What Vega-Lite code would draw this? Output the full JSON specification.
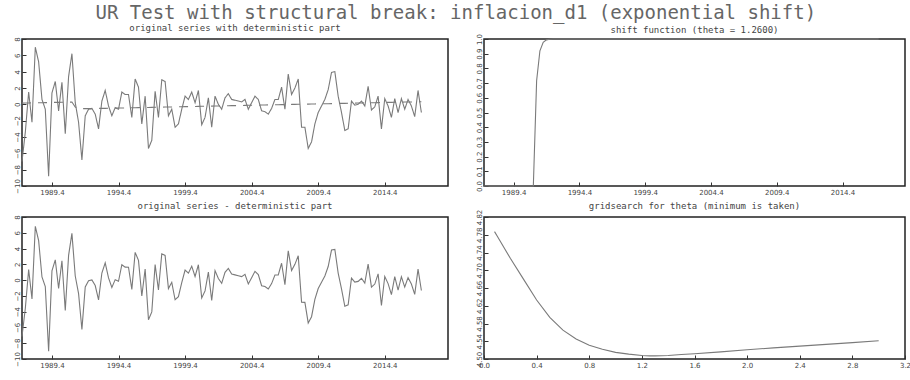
{
  "$schema": "https://vega.github.io/schema/vega-lite/v6.json",
  "padding": {"left": 0, "top": 4, "right": 0, "bottom": 0},
  "background": "white",
  "title": {"text": "UR Test with structural break: inflacion_d1 (exponential shift)", "font": "DejaVu Sans Mono", "fontSize": 19, "fontWeight": "normal", "color": "#666666", "anchor": "middle", "offset": 0},
  "config": {
    "view": {"stroke": "#222222", "strokeWidth": 1.5},
    "title": {"font": "DejaVu Sans Mono", "fontSize": 9, "fontWeight": "normal", "color": "#444444", "offset": 4},
    "axis": {"grid": false, "domain": false, "title": null, "labelFont": "DejaVu Sans", "labelFontSize": 7, "labelColor": "#444444", "tickColor": "#333333", "tickSize": -4, "labelPadding": 6, "labelFlush": false, "labelOverlap": false}
  },
  "datasets": {
    "ts": [
      {"t":1987.5,"y":-7.0,"d":0.15,"r":-7.15,"s":0},
      {"t":1987.75,"y":-3.4,"d":0.16,"r":-3.56,"s":0},
      {"t":1988.0,"y":1.5,"d":0.17,"r":1.33,"s":0},
      {"t":1988.25,"y":-2.2,"d":0.18,"r":-2.38,"s":0},
      {"t":1988.5,"y":7.0,"d":0.18,"r":6.82,"s":0},
      {"t":1988.75,"y":5.2,"d":0.19,"r":5.01,"s":0},
      {"t":1989.0,"y":0.6,"d":0.2,"r":0.4,"s":0},
      {"t":1989.25,"y":-0.6,"d":0.21,"r":-0.81,"s":0},
      {"t":1989.5,"y":-8.8,"d":0.22,"r":-9.02,"s":0},
      {"t":1989.75,"y":1.4,"d":0.23,"r":1.17,"s":0},
      {"t":1990.0,"y":2.8,"d":0.24,"r":2.56,"s":0},
      {"t":1990.25,"y":-0.8,"d":0.24,"r":-1.04,"s":0},
      {"t":1990.5,"y":2.7,"d":0.25,"r":2.45,"s":0},
      {"t":1990.75,"y":-3.6,"d":0.26,"r":-3.86,"s":0},
      {"t":1991.0,"y":3.4,"d":0.27,"r":3.13,"s":0},
      {"t":1991.25,"y":6.2,"d":0.28,"r":5.92,"s":0},
      {"t":1991.5,"y":0.2,"d":-0.32,"r":0.52,"s":0.716},
      {"t":1991.75,"y":-2.2,"d":-0.49,"r":-1.71,"s":0.92},
      {"t":1992.0,"y":-6.8,"d":-0.53,"r":-6.27,"s":0.977},
      {"t":1992.25,"y":-1.4,"d":-0.53,"r":-0.87,"s":0.994},
      {"t":1992.5,"y":-0.6,"d":-0.53,"r":-0.07,"s":0.998},
      {"t":1992.75,"y":-0.5,"d":-0.52,"r":0.02,"s":0.9995},
      {"t":1993.0,"y":-1.2,"d":-0.51,"r":-0.69,"s":1},
      {"t":1993.25,"y":-3.0,"d":-0.5,"r":-2.5,"s":1},
      {"t":1993.5,"y":0.4,"d":-0.5,"r":0.9,"s":1},
      {"t":1993.75,"y":1.7,"d":-0.49,"r":2.19,"s":1},
      {"t":1994.0,"y":-0.2,"d":-0.48,"r":0.28,"s":1},
      {"t":1994.25,"y":-1.4,"d":-0.47,"r":-0.93,"s":1},
      {"t":1994.5,"y":-0.4,"d":-0.46,"r":0.06,"s":1},
      {"t":1994.75,"y":-0.6,"d":-0.45,"r":-0.15,"s":1},
      {"t":1995.0,"y":1.5,"d":-0.45,"r":1.95,"s":1},
      {"t":1995.25,"y":1.2,"d":-0.44,"r":1.64,"s":1},
      {"t":1995.5,"y":1.2,"d":-0.43,"r":1.63,"s":1},
      {"t":1995.75,"y":-1.6,"d":-0.42,"r":-1.18,"s":1},
      {"t":1996.0,"y":3.1,"d":-0.41,"r":3.51,"s":1},
      {"t":1996.25,"y":2.1,"d":-0.4,"r":2.5,"s":1},
      {"t":1996.5,"y":-2.4,"d":-0.39,"r":-2.01,"s":1},
      {"t":1996.75,"y":1.0,"d":-0.39,"r":1.39,"s":1},
      {"t":1997.0,"y":-5.4,"d":-0.38,"r":-5.02,"s":1},
      {"t":1997.25,"y":-4.4,"d":-0.37,"r":-4.03,"s":1},
      {"t":1997.5,"y":1.6,"d":-0.36,"r":1.96,"s":1},
      {"t":1997.75,"y":-1.6,"d":-0.35,"r":-1.25,"s":1},
      {"t":1998.0,"y":3.0,"d":-0.34,"r":3.34,"s":1},
      {"t":1998.25,"y":2.8,"d":-0.33,"r":3.13,"s":1},
      {"t":1998.5,"y":-1.4,"d":-0.33,"r":-1.07,"s":1},
      {"t":1998.75,"y":-0.6,"d":-0.32,"r":-0.28,"s":1},
      {"t":1999.0,"y":-2.8,"d":-0.31,"r":-2.49,"s":1},
      {"t":1999.25,"y":-2.4,"d":-0.3,"r":-2.1,"s":1},
      {"t":1999.5,"y":-0.6,"d":-0.29,"r":-0.31,"s":1},
      {"t":1999.75,"y":1.0,"d":-0.28,"r":1.28,"s":1},
      {"t":2000.0,"y":0.6,"d":-0.28,"r":0.88,"s":1},
      {"t":2000.25,"y":1.5,"d":-0.27,"r":1.77,"s":1},
      {"t":2000.5,"y":0.2,"d":-0.26,"r":0.46,"s":1},
      {"t":2000.75,"y":1.7,"d":-0.25,"r":1.95,"s":1},
      {"t":2001.0,"y":-2.5,"d":-0.24,"r":-2.26,"s":1},
      {"t":2001.25,"y":-1.6,"d":-0.23,"r":-1.37,"s":1},
      {"t":2001.5,"y":0.8,"d":-0.22,"r":1.02,"s":1},
      {"t":2001.75,"y":-2.8,"d":-0.22,"r":-2.58,"s":1},
      {"t":2002.0,"y":1.0,"d":-0.21,"r":1.21,"s":1},
      {"t":2002.25,"y":0.0,"d":-0.2,"r":0.2,"s":1},
      {"t":2002.5,"y":-0.6,"d":-0.19,"r":-0.41,"s":1},
      {"t":2002.75,"y":0.8,"d":-0.18,"r":0.98,"s":1},
      {"t":2003.0,"y":1.3,"d":-0.17,"r":1.47,"s":1},
      {"t":2003.25,"y":0.6,"d":-0.16,"r":0.76,"s":1},
      {"t":2003.5,"y":0.5,"d":-0.16,"r":0.66,"s":1},
      {"t":2003.75,"y":0.4,"d":-0.15,"r":0.55,"s":1},
      {"t":2004.0,"y":0.3,"d":-0.14,"r":0.44,"s":1},
      {"t":2004.25,"y":0.6,"d":-0.13,"r":0.73,"s":1},
      {"t":2004.5,"y":-0.6,"d":-0.12,"r":-0.48,"s":1},
      {"t":2004.75,"y":0.2,"d":-0.11,"r":0.31,"s":1},
      {"t":2005.0,"y":1.0,"d":-0.11,"r":1.11,"s":1},
      {"t":2005.25,"y":0.6,"d":-0.1,"r":0.7,"s":1},
      {"t":2005.5,"y":-0.8,"d":-0.09,"r":-0.71,"s":1},
      {"t":2005.75,"y":-0.9,"d":-0.08,"r":-0.82,"s":1},
      {"t":2006.0,"y":-1.2,"d":-0.07,"r":-1.13,"s":1},
      {"t":2006.25,"y":-0.5,"d":-0.06,"r":-0.44,"s":1},
      {"t":2006.5,"y":0.6,"d":-0.05,"r":0.65,"s":1},
      {"t":2006.75,"y":0.6,"d":-0.05,"r":0.65,"s":1},
      {"t":2007.0,"y":2.1,"d":-0.04,"r":2.14,"s":1},
      {"t":2007.25,"y":-0.6,"d":-0.03,"r":-0.57,"s":1},
      {"t":2007.5,"y":3.7,"d":-0.02,"r":3.72,"s":1},
      {"t":2007.75,"y":1.2,"d":-0.01,"r":1.21,"s":1},
      {"t":2008.0,"y":2.0,"d":0.0,"r":2.0,"s":1},
      {"t":2008.25,"y":3.1,"d":0.01,"r":3.09,"s":1},
      {"t":2008.5,"y":-2.8,"d":0.01,"r":-2.81,"s":1},
      {"t":2008.75,"y":-2.8,"d":0.02,"r":-2.82,"s":1},
      {"t":2009.0,"y":-5.4,"d":0.03,"r":-5.43,"s":1},
      {"t":2009.25,"y":-4.6,"d":0.04,"r":-4.64,"s":1},
      {"t":2009.5,"y":-2.4,"d":0.05,"r":-2.45,"s":1},
      {"t":2009.75,"y":-1.0,"d":0.06,"r":-1.06,"s":1},
      {"t":2010.0,"y":-0.2,"d":0.07,"r":-0.27,"s":1},
      {"t":2010.25,"y":0.6,"d":0.07,"r":0.53,"s":1},
      {"t":2010.5,"y":1.8,"d":0.08,"r":1.72,"s":1},
      {"t":2010.75,"y":3.9,"d":0.09,"r":3.81,"s":1},
      {"t":2011.0,"y":4.0,"d":0.1,"r":3.9,"s":1},
      {"t":2011.25,"y":1.0,"d":0.11,"r":0.89,"s":1},
      {"t":2011.5,"y":-1.0,"d":0.12,"r":-1.12,"s":1},
      {"t":2011.75,"y":-3.2,"d":0.12,"r":-3.32,"s":1},
      {"t":2012.0,"y":-3.0,"d":0.13,"r":-3.13,"s":1},
      {"t":2012.25,"y":0.4,"d":0.14,"r":0.26,"s":1},
      {"t":2012.5,"y":-0.1,"d":0.15,"r":-0.25,"s":1},
      {"t":2012.75,"y":0.0,"d":0.16,"r":-0.16,"s":1},
      {"t":2013.0,"y":0.4,"d":0.17,"r":0.23,"s":1},
      {"t":2013.25,"y":-0.2,"d":0.18,"r":-0.38,"s":1},
      {"t":2013.5,"y":2.2,"d":0.18,"r":2.02,"s":1},
      {"t":2013.75,"y":-0.7,"d":0.19,"r":-0.89,"s":1},
      {"t":2014.0,"y":-0.3,"d":0.2,"r":-0.5,"s":1},
      {"t":2014.25,"y":1.0,"d":0.21,"r":0.79,"s":1},
      {"t":2014.5,"y":-3.0,"d":0.22,"r":-3.22,"s":1},
      {"t":2014.75,"y":0.7,"d":0.23,"r":0.47,"s":1},
      {"t":2015.0,"y":-0.2,"d":0.24,"r":-0.44,"s":1},
      {"t":2015.25,"y":-1.6,"d":0.24,"r":-1.84,"s":1},
      {"t":2015.5,"y":0.7,"d":0.25,"r":0.45,"s":1},
      {"t":2015.75,"y":-1.0,"d":0.26,"r":-1.26,"s":1},
      {"t":2016.0,"y":0.7,"d":0.27,"r":0.43,"s":1},
      {"t":2016.25,"y":-0.6,"d":0.28,"r":-0.88,"s":1},
      {"t":2016.5,"y":0.6,"d":0.29,"r":0.31,"s":1},
      {"t":2016.75,"y":-0.2,"d":0.29,"r":-0.49,"s":1},
      {"t":2017.0,"y":-1.5,"d":0.3,"r":-1.8,"s":1},
      {"t":2017.25,"y":1.7,"d":0.31,"r":1.39,"s":1},
      {"t":2017.5,"y":-1.0,"d":0.32,"r":-1.32,"s":1}
    ],
    "grid": [
      {"th":0.08,"v":4.787},{"th":0.1,"v":4.777},{"th":0.2,"v":4.727},{"th":0.3,"v":4.68},{"th":0.4,"v":4.633},
      {"th":0.5,"v":4.594},{"th":0.6,"v":4.565},{"th":0.7,"v":4.545},{"th":0.8,"v":4.531},{"th":0.9,"v":4.522},
      {"th":1.0,"v":4.515},{"th":1.1,"v":4.511},{"th":1.2,"v":4.508},{"th":1.26,"v":4.507},{"th":1.3,"v":4.507},
      {"th":1.4,"v":4.508},{"th":1.5,"v":4.51},{"th":1.6,"v":4.512},{"th":1.8,"v":4.516},{"th":2.0,"v":4.521},
      {"th":2.2,"v":4.525},{"th":2.4,"v":4.529},{"th":2.6,"v":4.533},{"th":2.8,"v":4.537},{"th":3.0,"v":4.541}
    ]
  },
  "spacing": 5,
  "vconcat": [
    {
      "spacing": 8,
      "hconcat": [
        {
          "width": 426, "height": 147,
          "title": {"text": "original series with deterministic part"},
          "data": {"name": "ts"},
          "transform": [{"fold": ["y", "d"], "as": ["series", "val"]}],
          "mark": {"type": "line", "color": "#7a7a7a", "strokeWidth": 1.1},
          "encoding": {
            "x": {"field": "t", "type": "quantitative", "scale": {"domain": [1987.5, 2019.5], "nice": false, "zero": false}, "axis": {"values": [1989.75, 1994.75, 1999.75, 2004.75, 2009.75, 2014.75], "labelExpr": "floor(datum.value) + '.4'"}},
            "y": {"field": "val", "type": "quantitative", "scale": {"domain": [-10, 8], "nice": false}, "axis": {"values": [-10, -8, -6, -4, -2, 0, 2, 4, 6, 8], "labelAngle": 270, "minExtent": 21, "maxExtent": 21}},
            "strokeDash": {"field": "series", "type": "nominal", "scale": {"domain": ["y", "d"], "range": [[1, 0], [9, 7]]}, "legend": null}
          }
        },
        {
          "width": 421, "height": 147,
          "title": {"text": "shift function (theta = 1.2600)", "offset": -2},
          "data": {"name": "ts"},
          "mark": {"type": "line", "color": "#7a7a7a", "strokeWidth": 1.1},
          "encoding": {
            "x": {"field": "t", "type": "quantitative", "scale": {"domain": [1987.5, 2019.5], "nice": false, "zero": false}, "axis": {"values": [1989.75, 1994.75, 1999.75, 2004.75, 2009.75, 2014.75], "labelExpr": "floor(datum.value) + '.4'"}},
            "y": {"field": "s", "type": "quantitative", "scale": {"domain": [0, 1], "nice": false}, "axis": {"values": [0, 0.1, 0.2, 0.3, 0.4, 0.5, 0.6, 0.7, 0.8, 0.9, 1.0], "format": ".1f", "labelAngle": 270, "minExtent": 26, "maxExtent": 26}}
          }
        }
      ]
    },
    {
      "spacing": 8,
      "hconcat": [
        {
          "width": 426, "height": 142,
          "title": {"text": "original series - deterministic part"},
          "data": {"name": "ts"},
          "mark": {"type": "line", "color": "#7a7a7a", "strokeWidth": 1.1},
          "encoding": {
            "x": {"field": "t", "type": "quantitative", "scale": {"domain": [1987.5, 2019.5], "nice": false, "zero": false}, "axis": {"values": [1989.75, 1994.75, 1999.75, 2004.75, 2009.75, 2014.75], "labelExpr": "floor(datum.value) + '.4'"}},
            "y": {"field": "r", "type": "quantitative", "scale": {"domain": [-10, 8], "nice": false}, "axis": {"values": [-10, -8, -6, -4, -2, 0, 2, 4, 6, 8], "labelAngle": 270, "minExtent": 21, "maxExtent": 21}}
          }
        },
        {
          "width": 421, "height": 142,
          "title": {"text": "gridsearch for theta (minimum is taken)", "offset": -2},
          "data": {"name": "grid"},
          "mark": {"type": "line", "color": "#7a7a7a", "strokeWidth": 1.1},
          "encoding": {
            "x": {"field": "th", "type": "quantitative", "scale": {"domain": [0, 3.2], "nice": false}, "axis": {"values": [0, 0.4, 0.8, 1.2, 1.6, 2.0, 2.4, 2.8, 3.2], "format": ".1f"}},
            "y": {"field": "v", "type": "quantitative", "scale": {"domain": [4.5, 4.82], "nice": false, "zero": false}, "axis": {"values": [4.5, 4.54, 4.58, 4.62, 4.66, 4.7, 4.74, 4.78, 4.82], "format": ".2f", "labelAngle": 270, "minExtent": 26, "maxExtent": 26}}
          }
        }
      ]
    }
  ]
}
